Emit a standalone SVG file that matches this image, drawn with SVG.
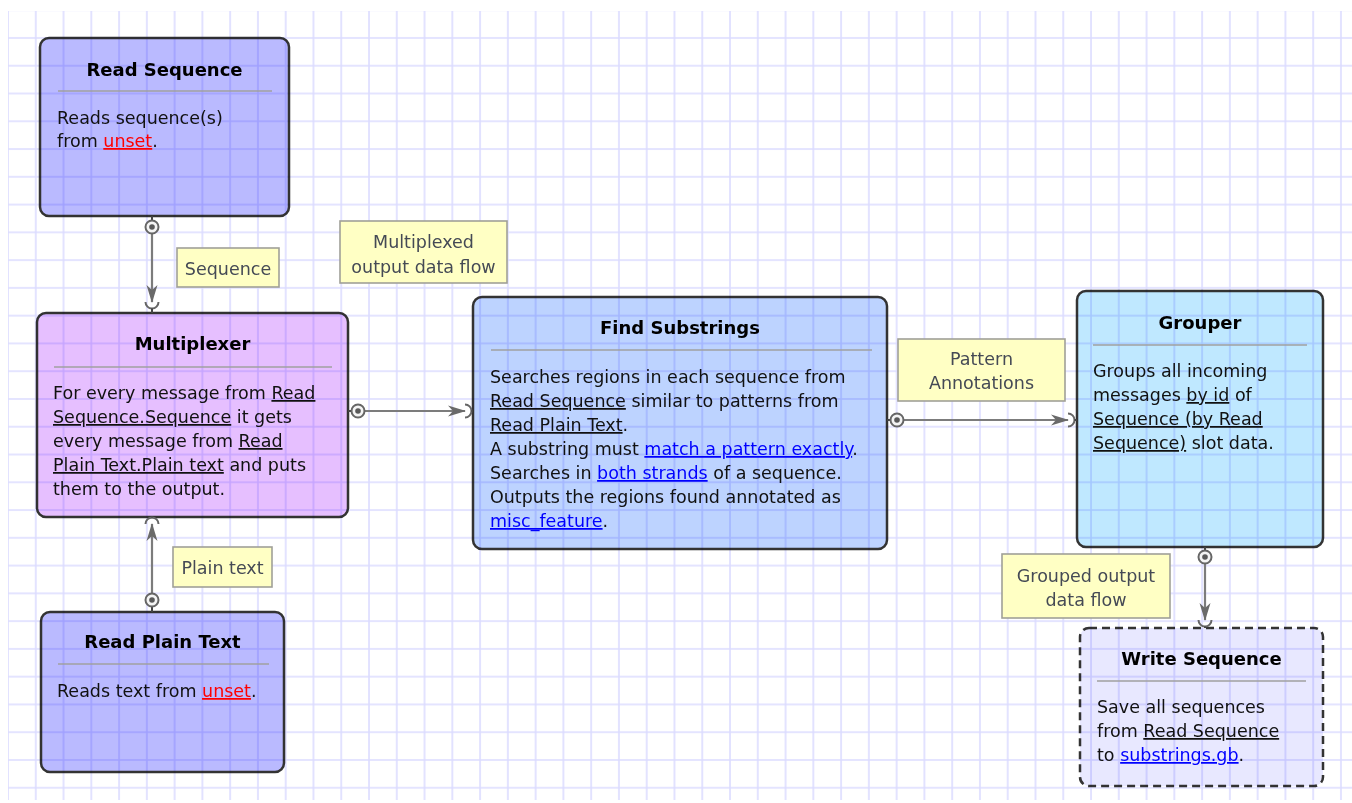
<svg xmlns="http://www.w3.org/2000/svg" width="1352" height="803" viewBox="0 0 1352 803">
<defs>
<pattern id="grid" x="7" y="9.2" width="27.77" height="27.77" patternUnits="userSpaceOnUse">
<path d="M1,0 V27.77 M0,1 H27.77" stroke="#dcdcff" stroke-width="1.6" fill="none"/>
</pattern>
<marker id="arr" viewBox="0 0 18 12" refX="17" refY="6" markerWidth="18" markerHeight="12" markerUnits="userSpaceOnUse" orient="auto">
<path d="M0,0.5 L18,6 L0,11.5 L5,6 Z" fill="#6a6a6a"/>
</marker>
</defs>
<style>
.node{stroke:#333;stroke-width:2.5;mix-blend-mode:multiply}
.title{font-family:"DejaVu Sans",sans-serif;font-size:18px;font-weight:bold;fill:#000;text-anchor:middle}
.body{font-family:"DejaVu Sans",sans-serif;font-size:17.5px;fill:#111}
.sep{stroke:#a0a0a0;stroke-width:1.5}
.u{text-decoration:underline}
.red{fill:#ff0000;text-decoration:underline}
.blue{fill:#0000ff;text-decoration:underline}
.lbl rect{fill:#ffffc4;stroke:#a0a098;stroke-width:1.6}
.lbl text{font-family:"DejaVu Sans",sans-serif;font-size:17.5px;fill:#454a55;text-anchor:middle}
.line{stroke:#7c7c7c;stroke-width:2.2;fill:none}
.port{fill:#f4f4f4;stroke:#666;stroke-width:2}
.dot{fill:#5a5a5a}
.arc{fill:none;stroke:#666;stroke-width:2}
.stub{stroke:#444;stroke-width:2}
</style>
<rect x="0" y="0" width="1352" height="803" fill="#ffffff"/>
<rect x="8" y="11" width="1344" height="789" fill="url(#grid)"/>

<g id="read-sequence">
<rect class="node" x="40" y="38" width="249" height="178" rx="9" fill="#babaff"/>
<text class="title" x="164.5" y="76">Read Sequence</text>
<line class="sep" x1="58" y1="91" x2="272" y2="91"/>
<text class="body" x="57" y="124">Reads sequence(s)</text>
<text class="body" x="57" y="147">from <tspan class="red">unset</tspan>.</text>
</g>

<g id="multiplexer">
<rect class="node" x="37" y="313" width="311" height="204" rx="9" fill="#e6bfff"/>
<text class="title" x="192.5" y="350">Multiplexer</text>
<line class="sep" x1="54" y1="367" x2="332" y2="367"/>
<text class="body" x="53" y="399">For every message from <tspan class="u">Read</tspan></text>
<text class="body" x="53" y="423"><tspan class="u">Sequence.Sequence</tspan> it gets</text>
<text class="body" x="53" y="447">every message from <tspan class="u">Read</tspan></text>
<text class="body" x="53" y="471"><tspan class="u">Plain Text.Plain text</tspan> and puts</text>
<text class="body" x="53" y="495">them to the output.</text>
</g>

<g id="read-plain-text">
<rect class="node" x="41" y="612" width="243" height="160" rx="9" fill="#babaff"/>
<text class="title" x="162.5" y="648">Read Plain Text</text>
<line class="sep" x1="58" y1="664" x2="269" y2="664"/>
<text class="body" x="57" y="697">Reads text from <tspan class="red">unset</tspan>.</text>
</g>

<g id="find-substrings">
<rect class="node" x="473" y="297" width="414" height="252" rx="9" fill="#bdd3ff"/>
<text class="title" x="680" y="334">Find Substrings</text>
<line class="sep" x1="491" y1="350" x2="872" y2="350"/>
<text class="body" x="490" y="383">Searches regions in each sequence from</text>
<text class="body" x="490" y="407"><tspan class="u">Read Sequence</tspan> similar to patterns from</text>
<text class="body" x="490" y="431"><tspan class="u">Read Plain Text</tspan>.</text>
<text class="body" x="490" y="455">A substring must <tspan class="blue">match a pattern exactly</tspan>.</text>
<text class="body" x="490" y="479">Searches in <tspan class="blue">both strands</tspan> of a sequence.</text>
<text class="body" x="490" y="503">Outputs the regions found annotated as</text>
<text class="body" x="490" y="527"><tspan class="blue">misc_feature</tspan>.</text>
</g>

<g id="grouper">
<rect class="node" x="1077" y="291" width="246" height="256" rx="9" fill="#bfe8ff"/>
<text class="title" x="1200" y="329">Grouper</text>
<line class="sep" x1="1093" y1="345" x2="1307" y2="345"/>
<text class="body" x="1093" y="377">Groups all incoming</text>
<text class="body" x="1093" y="401">messages <tspan class="u">by id</tspan> of</text>
<text class="body" x="1093" y="425"><tspan class="u">Sequence (by Read</tspan></text>
<text class="body" x="1093" y="449"><tspan class="u">Sequence)</tspan> slot data.</text>
</g>

<g id="write-sequence">
<rect class="node" x="1080" y="628" width="243" height="158" rx="9" fill="#e8e8ff" stroke-dasharray="8,5"/>
<text class="title" x="1201.5" y="665">Write Sequence</text>
<line class="sep" x1="1097" y1="681" x2="1306" y2="681"/>
<text class="body" x="1097" y="713">Save all sequences</text>
<text class="body" x="1097" y="737">from <tspan class="u">Read Sequence</tspan></text>
<text class="body" x="1097" y="761">to <tspan class="blue">substrings.gb</tspan>.</text>
</g>

<g id="connectors">
<line class="stub" x1="152" y1="216" x2="152" y2="220"/>
<line class="line" x1="152" y1="234" x2="152" y2="302" marker-end="url(#arr)"/>
<circle class="port" cx="152" cy="227" r="6.5"/>
<circle class="dot" cx="152" cy="227" r="2.8"/>
<path class="arc" d="M145.5,302 A6.5,6.5 0 0 0 158.5,302"/>
<line class="stub" x1="152" y1="308.5" x2="152" y2="313"/>

<line class="stub" x1="152" y1="607" x2="152" y2="612"/>
<line class="line" x1="152" y1="593" x2="152" y2="524" marker-end="url(#arr)"/>
<circle class="port" cx="152" cy="600" r="6.5"/>
<circle class="dot" cx="152" cy="600" r="2.8"/>
<path class="arc" d="M145.5,524 A6.5,6.5 0 0 1 158.5,524"/>
<line class="stub" x1="152" y1="517.5" x2="152" y2="517"/>

<line class="stub" x1="348" y1="411" x2="351" y2="411"/>
<line class="line" x1="365" y1="411" x2="465" y2="411" marker-end="url(#arr)"/>
<circle class="port" cx="358" cy="411" r="6.5"/>
<circle class="dot" cx="358" cy="411" r="2.8"/>
<path class="arc" d="M465,404.5 A6.5,6.5 0 0 1 465,417.5"/>
<line class="stub" x1="471.5" y1="411" x2="473" y2="411"/>

<line class="stub" x1="887" y1="420" x2="890" y2="420"/>
<line class="line" x1="904" y1="420" x2="1068" y2="420" marker-end="url(#arr)"/>
<circle class="port" cx="897" cy="420" r="6.5"/>
<circle class="dot" cx="897" cy="420" r="2.8"/>
<path class="arc" d="M1068,413.5 A6.5,6.5 0 0 1 1068,426.5"/>
<line class="stub" x1="1074.5" y1="420" x2="1077" y2="420"/>

<line class="stub" x1="1205" y1="547" x2="1205" y2="550"/>
<line class="line" x1="1205" y1="564" x2="1205" y2="620" marker-end="url(#arr)"/>
<circle class="port" cx="1205" cy="557" r="6.5"/>
<circle class="dot" cx="1205" cy="557" r="2.8"/>
<path class="arc" d="M1198.5,620 A6.5,6.5 0 0 0 1211.5,620"/>
<line class="stub" x1="1205" y1="626.5" x2="1205" y2="628"/>
</g>

<g id="labels">
<g class="lbl" id="lbl-sequence">
<rect x="177" y="248" width="102" height="39"/>
<text x="228" y="275">Sequence</text>
</g>
<g class="lbl" id="lbl-multiplexed">
<rect x="340" y="221" width="167" height="62"/>
<text x="423.5" y="248">Multiplexed</text>
<text x="423.5" y="273">output data flow</text>
</g>
<g class="lbl" id="lbl-pattern">
<rect x="898" y="339" width="167" height="62"/>
<text x="981.5" y="365">Pattern</text>
<text x="981.5" y="389">Annotations</text>
</g>
<g class="lbl" id="lbl-plain">
<rect x="173" y="547" width="99" height="40"/>
<text x="222.5" y="574">Plain text</text>
</g>
<g class="lbl" id="lbl-grouped">
<rect x="1002" y="554" width="168" height="64"/>
<text x="1086" y="582">Grouped output</text>
<text x="1086" y="606">data flow</text>
</g>
</g>
</svg>
